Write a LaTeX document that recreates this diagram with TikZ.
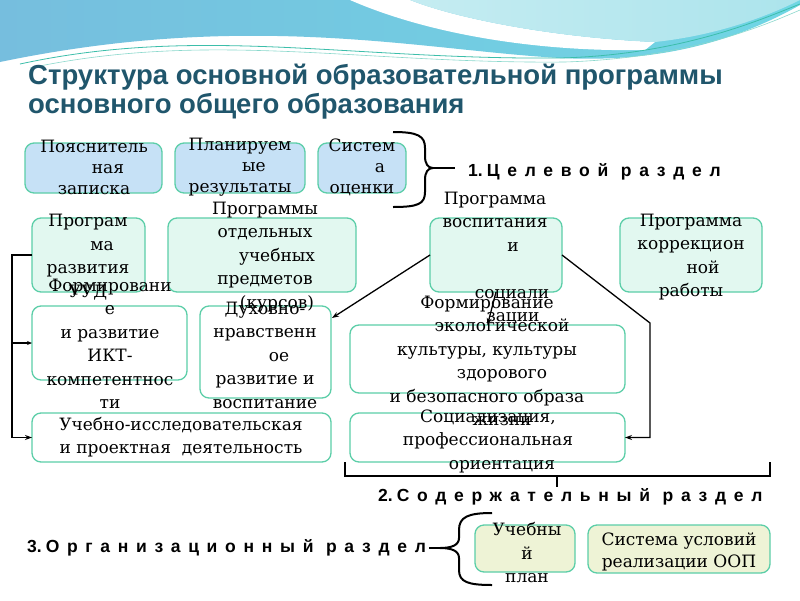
\documentclass[tikz,border=0pt]{standalone}
\usepackage{fontspec}
\setmainfont{DejaVu Serif}
\newfontfamily\titlefont{Liberation Sans}
\newfontfamily\secfont[LetterSpace=44]{Liberation Sans}
\usetikzlibrary{arrows.meta,calc}
\definecolor{bordc}{RGB}{92,206,168}
\definecolor{bluef}{RGB}{198,225,246}
\definecolor{mintf}{RGB}{226,248,240}
\definecolor{beigef}{RGB}{238,243,214}
\definecolor{titlec}{RGB}{32,86,108}
\definecolor{wavea}{RGB}{118,190,222}
\definecolor{waveb}{RGB}{112,214,228}
\definecolor{wavec}{RGB}{172,228,236}
\definecolor{wavel}{RGB}{60,190,170}
\tikzset{
 box/.style={draw=bordc, line width=1.3pt, rounded corners=9pt, anchor=north west, inner sep=0pt, outer sep=0pt},
 tone/.style={align=center, inner sep=0pt, font=\fontsize{17}{21}\selectfont},
 ttwo/.style={align=center, inner sep=0pt, font=\fontsize{17}{23.5}\selectfont},
 sec/.style={font=\secfont\bfseries\fontsize{17.5}{19}\selectfont, inner sep=0pt},
 link/.style={line width=1.3pt, black},
 arr/.style={link, -{Stealth[length=7pt,width=5pt]}},
 bracestyle/.style={line width=2pt, black}
}
\newcommand{\secnum}[1]{{\titlefont\bfseries #1}\hspace{4pt}}
\begin{document}
\begin{tikzpicture}[x=1pt,y=-1pt]
\useasboundingbox (0,0) rectangle (800,600);
\fill[white] (0,0) rectangle (800,600);
% decorative top wave
\shade[left color=wavea, right color=waveb] (0,0) -- (800,0) -- (800,5) .. controls (720,50) and (640,62) .. (560,58) .. controls (420,50) and (250,10) .. (0,62) -- cycle;
\fill[white] (350,0) .. controls (430,35) and (540,52) .. (645,50) -- (655,42) .. controls (560,38) and (460,20) .. (410,0) -- cycle;
\shade[left color=wavec!70!white, right color=wavec] (410,0) .. controls (460,20) and (560,38) .. (655,42) .. controls (720,35) and (770,15) .. (800,0) -- cycle;
\draw[wavel, line width=0.8pt] (20,64) .. controls (200,25) and (350,60) .. (560,58) .. controls (680,55) and (760,20) .. (800,4);
\draw[wavel!60, line width=0.6pt] (30,68) .. controls (210,30) and (360,64) .. (565,62) .. controls (690,58) and (765,25) .. (800,10);

% title
\node[anchor=base west, inner sep=0pt, text=titlec, font=\titlefont\bfseries\fontsize{27.5}{30}\selectfont] (title1) at (28,84) {Структура основной образовательной программы};
\node[anchor=base west, inner sep=0pt, text=titlec, font=\titlefont\bfseries\fontsize{27.5}{30}\selectfont] (title2) at (28,113) {основного общего образования};

% boxes
\node[box, fill=bluef, minimum width=137, minimum height=50] (pz) at (25,143) {};
\node[box, fill=bluef, minimum width=130, minimum height=50] (pr) at (175,143) {};
\node[box, fill=bluef, minimum width=88, minimum height=50] (so) at (318,143) {};
\node[box, fill=mintf, minimum width=113, minimum height=74] (uud) at (32,218) {};
\node[box, fill=mintf, minimum width=188, minimum height=74] (otd) at (168,218) {};
\node[box, fill=mintf, minimum width=132, minimum height=74] (vos) at (430,218) {};
\node[box, fill=mintf, minimum width=142, minimum height=74] (kor) at (620,218) {};
\node[box, fill=white, minimum width=155, minimum height=74] (ikt) at (32,306) {};
\node[box, fill=white, minimum width=131, minimum height=92] (dux) at (200,306) {};
\node[box, fill=white, minimum width=275, minimum height=68] (eco) at (350,325) {};
\node[box, fill=white, minimum width=299, minimum height=49] (ucb) at (32,413) {};
\node[box, fill=white, minimum width=275, minimum height=49] (soc) at (350,413) {};
\node[box, fill=beigef, minimum width=100, minimum height=47] (upl) at (475,525) {};
\node[box, fill=beigef, minimum width=182, minimum height=48] (sys) at (588,525) {};

% connectors
\coordinate (lbot) at (12,437.5);
\draw[arr] (uud.west) -| (lbot) -- (ucb.west);
\draw[link, -{Stealth[length=5pt,width=4pt]}] (ikt.west -| lbot) -- (ikt.west);
\draw[arr] (vos.west) -- ($(dux.north east)+(1,12)$);
\draw[arr] (vos.south) -- (eco.north);
\coordinate (rk) at (650,323);
\draw[arr] (vos.east) -- (rk) |- (soc.east);

% section 1 brace
\coordinate (b1top) at (393,132);
\coordinate (b1bot) at (393,207);
\coordinate (b1tip) at (433,168);
\draw[bracestyle] (b1top) .. controls (418,132) and (425,136) .. (425,148) -- (425,156) .. controls (425,164) and (428,168) .. (b1tip)
  .. controls (428,168) and (425,172) .. (425,180) -- (425,192) .. controls (425,204) and (418,207) .. (b1bot);
\node[sec, anchor=west] (sec1) at (468,172) {\secnum{1.}Целевой раздел};
\draw[bracestyle] (b1tip) -- ($(sec1.west)+(-13,-4)$);

% section 2 bracket
\coordinate (b2l) at (345,462);
\coordinate (b2r) at (770,462);
\coordinate (b2m) at (557,476);
\draw[bracestyle] (b2l) -- (345,476) -- (770,476) -- (b2r);
\node[sec, anchor=west] (sec2) at (378,497) {\secnum{2.}Содержательный раздел};
\draw[bracestyle] (b2m) -- (557,487);

% section 3 brace
\node[sec, anchor=west] (sec3) at (27,548) {\secnum{3.}Организационный раздел};
\coordinate (b3top) at (492,513);
\coordinate (b3bot) at (492,585);
\coordinate (b3tip) at (440,548);
\draw[bracestyle] (b3top) .. controls (468,513) and (459,517) .. (459,530) -- (459,538) .. controls (459,545) and (452,548) .. (b3tip)
  .. controls (452,548) and (459,551) .. (459,558) -- (459,570) .. controls (459,582) and (468,585) .. (b3bot);
\draw[bracestyle] ($(sec3.east)+(3,0)$) -- (b3tip);

% texts
\node[tone] (tpz) at (94,167) {Пояснитель\\\hspace*{28pt}ная\\записка};
\node[tone] (tpr) at (240,167) {Планируем\\\hspace*{28pt}ые\\результаты};
\node[tone] (tso) at (362,167) {Систем\\\hspace*{36pt}а\\оценки};
\node[ttwo] (tuud) at (88,257) {Програм\\\hspace*{28pt}ма\\развития\\УУД};
\node[ttwo] (totd) at (265,257) {Программы\\отдельных\\\hspace*{24pt}учебных\\предметов\\\hspace*{24pt}(курсов)};
\node[ttwo] (tvos) at (495,258) {Программа\\воспитания\\\hspace*{36pt}и\\\mbox{}\\\hspace*{34pt}социали\\\hspace*{36pt}зации};
\node[ttwo] (tkor) at (691,257) {Программа\\коррекцион\\\hspace*{24pt}ной\\работы};
\node[ttwo] (tikt) at (110,344) {Формировани\\е\\и развитие\\ИКТ-\\компетентнос\\ти};
\node[ttwo] (tdux) at (265,355) {Духовно-\\нравственн\\\hspace*{28pt}ое\\развитие и\\воспитание};
\node[ttwo] (teco) at (487,361) {Формирование\\\hspace*{30pt}экологической\\культуры, культуры\\\hspace*{30pt}здорового\\и безопасного образа\\\hspace*{30pt}жизни};
\node[ttwo] (tucb) at (181,437) {Учебно-исследовательская\\и проектная\ \ деятельность};
\node[ttwo] (tsoc) at (488,441) {Социализация,\\профессиональная\\\hspace*{28pt}ориентация};
\node[ttwo] (tupl) at (527,553) {Учебны\\й\\план};
\node[align=center, inner sep=0pt, font=\fontsize{17}{22}\selectfont] (tsys) at (679,552) {Система условий\\реализации ООП};
\end{tikzpicture}
\end{document}
